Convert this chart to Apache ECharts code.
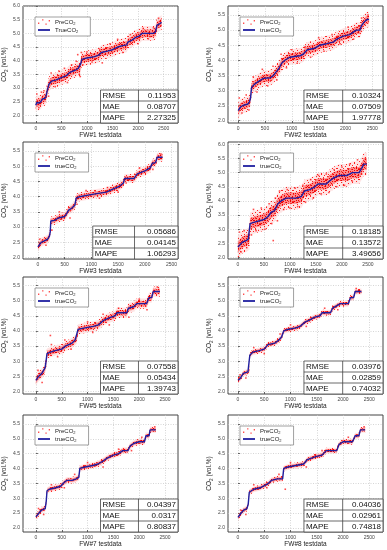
<!DOCTYPE html>
<html><head><meta charset="utf-8">
<script src="https://cdn.jsdelivr.net/npm/echarts@6/dist/echarts.min.js"></script>
<style>html,body{margin:0;padding:0;background:#fff}#c{width:387px;height:550px}</style>
</head><body><div id="c"></div>
<script>
// ---------- data ----------
const panelNames = ['FW#1 testdata','FW#2 testdata','FW#3 testdata','FW#4 testdata','FW#5 testdata','FW#6 testdata','FW#7 testdata','FW#8 testdata'];
const trueNames = ['TrueCO2','trueCO2','trueCO2','trueCO2','trueCO2','trueCO2','trueCO2','trueCO2'];
const rmse = ['0.11953','0.10324','0.05686','0.18185','0.07558','0.03976','0.04397','0.04036'];
const mae  = ['0.08707','0.07509','0.04145','0.13572','0.05434','0.02859','0.0317','0.02961'];
const mape = ['2.27325','1.97778','1.06293','3.49656','1.39743','0.74032','0.80837','0.74818'];
const xTicks = [0,500,1000,1500,2000,2500];
const yTicksA = [2.0,2.5,3.0,3.5,4.0,4.5,5.0,5.5,6.0];
const yTicksB = [2.0,2.5,3.0,3.5,4.0,4.5,5.0,5.5];

const true1 = [[0,2.37],[20,2.47],[60,2.45],[100,2.5],[130,2.6],[180,2.62],[200,2.7],[230,2.95],[260,3.15],[310,3.25],[400,3.3],[500,3.38],[600,3.45],[650,3.55],[700,3.6],[770,3.65],[830,3.72],[860,3.65],[880,3.9],[900,4.05],[1000,4.1],[1150,4.15],[1230,4.2],[1280,4.3],[1400,4.35],[1500,4.4],[1600,4.5],[1700,4.55],[1780,4.58],[1800,4.68],[1880,4.75],[1950,4.85],[2020,4.9],[2080,5.0],[2300,5.0],[2340,5.05],[2370,5.3],[2420,5.35],[2460,5.4]];
const true2 = [[0,2.33],[40,2.45],[90,2.5],[180,2.55],[210,2.62],[230,2.75],[250,3.1],[270,3.15],[300,3.2],[380,3.3],[470,3.4],[600,3.42],[660,3.5],[700,3.6],[750,3.7],[810,3.9],[870,4.0],[960,4.1],[1150,4.15],[1210,4.2],[1290,4.35],[1430,4.4],[1520,4.5],[1650,4.55],[1770,4.6],[1840,4.7],[1960,4.8],[2080,4.85],[2160,4.95],[2200,5.0],[2270,5.0],[2300,5.15],[2340,5.25],[2400,5.35],[2440,5.35]];
const true3 = [[0,2.35],[60,2.5],[120,2.55],[180,2.6],[215,2.7],[230,2.85],[240,3.2],[310,3.22],[380,3.3],[500,3.35],[540,3.45],[570,3.55],[630,3.62],[690,3.72],[715,3.95],[780,4.0],[940,4.05],[1100,4.1],[1280,4.15],[1400,4.25],[1530,4.35],[1600,4.45],[1620,4.6],[1800,4.6],[1860,4.75],[2000,4.85],[2100,4.95],[2140,5.1],[2200,5.12],[2230,5.3],[2330,5.3]];
const true4 = [[0,2.37],[90,2.55],[160,2.6],[200,2.65],[220,2.7],[235,3.2],[320,3.25],[420,3.3],[510,3.35],[580,3.45],[640,3.6],[700,3.65],[770,3.9],[830,4.0],[930,4.1],[1120,4.1],[1220,4.15],[1280,4.35],[1380,4.4],[1480,4.5],[1540,4.6],[1700,4.6],[1760,4.7],[1830,4.8],[1950,4.9],[2100,4.9],[2200,5.0],[2330,5.0],[2380,5.15],[2420,5.3],[2480,5.3]];
const true5 = [[0,2.37],[50,2.5],[115,2.6],[150,2.65],[180,2.8],[195,2.85],[215,3.25],[280,3.3],[370,3.35],[500,3.4],[570,3.5],[700,3.6],[760,3.7],[790,3.75],[815,4.05],[950,4.1],[1110,4.15],[1210,4.2],[1310,4.35],[1440,4.45],[1530,4.5],[1570,4.6],[1760,4.6],[1790,4.75],[1890,4.8],[1950,4.9],[2140,4.9],[2190,5.1],[2240,5.1],[2270,5.3],[2400,5.3]];
const true6 = [[0,2.37],[50,2.45],[100,2.6],[190,2.65],[215,2.7],[225,3.2],[280,3.3],[400,3.35],[500,3.4],[570,3.55],[700,3.6],[780,3.7],[830,3.8],[870,4.0],[950,4.05],[1100,4.1],[1180,4.15],[1280,4.3],[1350,4.35],[1450,4.45],[1560,4.5],[1600,4.6],[1760,4.6],[1800,4.75],[1900,4.85],[1950,4.9],[2100,4.9],[2140,5.1],[2200,5.1],[2230,5.3],[2350,5.3]];
const true7 = [[0,2.37],[60,2.5],[110,2.6],[180,2.65],[200,2.9],[215,3.25],[260,3.3],[380,3.35],[480,3.4],[530,3.5],[600,3.6],[700,3.6],[780,3.65],[830,3.7],[850,4.0],[950,4.05],[1100,4.1],[1200,4.15],[1300,4.25],[1380,4.35],[1500,4.45],[1600,4.5],[1680,4.6],[1780,4.6],[1820,4.75],[1900,4.85],[2000,4.9],[2100,4.9],[2130,5.1],[2190,5.1],[2210,5.3],[2320,5.3]];
const true8 = [[0,2.35],[60,2.5],[110,2.6],[170,2.65],[195,2.8],[215,3.2],[300,3.3],[420,3.35],[530,3.45],[580,3.5],[640,3.6],[750,3.65],[850,3.65],[870,4.0],[950,4.05],[1100,4.1],[1250,4.15],[1320,4.3],[1480,4.4],[1600,4.45],[1680,4.6],[1880,4.6],[1920,4.8],[2000,4.9],[2180,4.9],[2230,5.1],[2300,5.1],[2330,5.3],[2420,5.3]];

// half-width of the dense red prediction cloud around the true curve (vol.%)
const coreSpread  = [0.14, 0.13, 0.08, 0.20, 0.09, 0.055, 0.06, 0.055];
const outerSpread = [0.27, 0.26, 0.15, 0.40, 0.17, 0.10, 0.11, 0.10];

// scattered prediction points lying outside the dense cloud
const pre1 = [[20,2.78],[60,2.28],[110,2.85],[160,2.9],[250,2.7],[300,3.55],[380,3.05],[450,3.62],[560,3.72],[620,3.2],[700,3.85],[790,3.98],[820,4.22],[850,3.5],[870,3.42],[890,4.3],[920,3.85],[1000,4.32],[1100,3.95],[1250,4.42],[1300,3.92],[1450,4.62],[1600,4.78],[1700,4.3],[1850,4.95],[2000,4.62],[2100,5.18],[2200,4.8],[2300,5.2],[2400,5.55]];
const pre2 = [[20,2.75],[70,2.25],[150,2.85],[200,2.35],[280,3.45],[350,2.95],[450,3.7],[550,3.15],[650,3.8],[720,3.35],[800,4.2],[900,3.75],[1000,4.35],[1100,3.9],[1250,4.45],[1350,4.1],[1500,4.75],[1600,4.3],[1750,4.85],[1900,4.55],[2050,5.1],[2150,4.7],[2300,5.4],[2420,5.5]];
const pre3 = [[30,2.6],[150,2.4],[260,2.9],[400,3.5],[600,3.3],[730,3.75],[900,4.2],[1150,3.95],[1300,4.3],[1500,4.15],[1650,4.45],[1900,4.95],[2150,4.9],[2300,5.4]];
const pre4 = [[30,2.9],[60,2.2],[120,2.95],[170,2.35],[260,2.8],[300,3.7],[350,2.95],[450,3.75],[520,3.0],[600,3.9],[650,3.2],[720,4.1],[760,3.3],[800,4.35],[880,3.7],[950,4.4],[1000,3.75],[1100,4.45],[1150,3.8],[1250,4.55],[1300,3.95],[1400,4.75],[1450,4.1],[1550,4.9],[1600,4.25],[1700,4.95],[1750,4.3],[1850,5.1],[1900,4.5],[2000,5.2],[2050,4.55],[2150,5.3],[2200,4.7],[2300,5.45],[2380,4.95],[2450,5.5],[680,2.6]];
const pre5 = [[40,2.7],[120,2.3],[190,3.0],[300,3.55],[420,3.15],[560,3.7],[680,3.4],[800,3.85],[1000,4.3],[1100,3.95],[1300,4.55],[1420,4.2],[1600,4.75],[1800,4.45],[2000,5.05],[2150,4.7],[2350,5.45],[280,3.85]];
const pre6 = [[40,2.55],[150,2.45],[300,3.45],[500,3.25],[800,3.9],[1000,4.2],[1300,4.15],[1650,4.75],[1900,4.7],[2250,5.4]];
const pre7 = [[50,2.65],[150,2.45],[300,3.45],[550,3.35],[750,3.8],[1000,4.2],[1300,4.05],[1600,4.65],[1850,4.6],[2050,5.05],[2300,5.4]];
const pre8 = [[50,2.6],[150,2.45],[300,3.45],[550,3.35],[780,3.8],[1000,4.2],[1300,4.05],[1600,4.6],[1900,4.75],[2100,5.05],[2400,5.4],[900,3.3]];

const xRanges = [[-250,2780],[-190,2700],[-280,2620],[-190,2790],[-250,2750],[-190,2760],[-250,2750],[-190,2760]];
const yRanges = [[1.72,6.0],[1.92,5.8],[1.95,5.8],[1.95,6.08],[1.92,5.78],[1.92,5.78],[1.86,5.8],[1.86,5.8]];
const yTickSets = [yTicksA,yTicksB,yTicksB,yTicksA,yTicksB,yTicksB,yTicksB,yTicksB];

// ---------- layout & style ----------
const trues = [true1,true2,true3,true4,true5,true6,true7,true8];
const pres = [pre1,pre2,pre3,pre4,pre5,pre6,pre7,pre8];
const FONT = '"Liberation Sans", Arial, sans-serif';
const colLeft = [23, 228];
const rowTop = [6, 142, 277, 415];
const plotW = 155, plotH = 117;
const tableFrac = [0.5,0.49,0.45,0.49,0.5,0.49,0.5,0.49];
const tableH = 33;

const dotsIcon = 'path://M0,5h1.6v1.6h-1.6z M5,1h1.6v1.6h-1.6z M9,6h1.6v1.6h-1.6z M13,2h1.6v1.6h-1.6z';
const lineIcon = 'path://M0,0h20v3h-20z';

// speckle textures (pure styling) that imitate a dense cloud of tiny dots
function speckle(size, bg, dot, cells) {
  const cv = document.createElement('canvas');
  cv.width = size; cv.height = size;
  const ctx = cv.getContext('2d');
  if (bg) { ctx.fillStyle = bg; ctx.fillRect(0,0,size,size); }
  ctx.fillStyle = dot;
  cells.forEach(c => ctx.fillRect(c[0], c[1], c[2]||1, c[3]||1));
  return {image: cv, repeat: 'repeat'};
}
const outerFill = speckle(11, 'rgba(255,130,130,0.22)', 'rgba(255,0,0,0.85)',
  [[0,0],[4,1],[8,0],[2,3],[6,3,2,1],[10,4],[0,6],[4,5],[7,7],[2,8,1,2],[9,9],[5,10]]);
const coreFill = speckle(11, 'rgba(255,50,50,0.5)', 'rgba(235,0,0,1)',
  [[0,0,2,1],[3,0],[6,1],[9,0],[1,2],[4,2,1,2],[8,3],[10,2],[0,4],[2,5],[6,4,2,1],[9,6],[1,7],[4,7],[7,6],[3,9],[6,9,1,2],[9,8],[0,9],[10,10],[5,5]]);

const grids=[], xAxes=[], yAxes=[], series=[], legends=[], elements=[];

function band(pts, s, fill, gi) {
  return {
    type:'custom', xAxisIndex:gi, yAxisIndex:gi, data:pts, silent:true, clip:true, z:1,
    renderItem: function(params, api){
      if (params.dataIndex !== 0) return;
      const up = pts.map(p => api.coord([p[0], p[1] + s]));
      const lo = pts.slice().reverse().map(p => api.coord([p[0], p[1] - s]));
      return {type:'polygon', shape:{points: up.concat(lo)}, style:{fill: fill}};
    }
  };
}

for (let i=0;i<8;i++){
  const c=i%2, r=Math.floor(i/2);
  const L=colLeft[c], T=rowTop[r];
  grids.push({left:L, top:T, width:plotW, height:plotH, show:true, borderColor:'#444', borderWidth:1, backgroundColor:'#fff'});
  xAxes.push({
    type:'value', gridIndex:i, min:xRanges[i][0], max:xRanges[i][1],
    name:panelNames[i], nameLocation:'middle', nameGap:9,
    nameTextStyle:{fontSize:6.5, color:'#222', fontFamily:FONT},
    axisLine:{show:false},
    axisTick:{customValues:xTicks, inside:true, length:2, lineStyle:{color:'#444', width:0.8}},
    axisLabel:{customValues:xTicks, fontSize:5, color:'#444', margin:3, fontFamily:FONT, formatter:v=>String(Math.round(v))},
    splitLine:{show:true, lineStyle:{color:'#c4c4c4', type:[1,1.5], width:0.7}}
  });
  yAxes.push({
    type:'value', gridIndex:i, min:yRanges[i][0], max:yRanges[i][1],
    name:'{n|CO}{s|2}{n| (vol.%)}', nameLocation:'middle', nameGap:13,
    nameTextStyle:{fontSize:6.5, color:'#222', fontFamily:FONT,
      rich:{n:{fontSize:6.5, color:'#222', fontFamily:FONT, lineHeight:9}, s:{fontSize:4.5, color:'#222', fontFamily:FONT, lineHeight:6, verticalAlign:'bottom'}}},
    axisLine:{show:false},
    axisTick:{customValues:yTickSets[i], inside:true, length:2, lineStyle:{color:'#444', width:0.8}},
    axisLabel:{customValues:yTickSets[i], fontSize:5, color:'#444', margin:3, fontFamily:FONT, formatter:v=>Number(v).toFixed(1)},
    splitLine:{show:true, lineStyle:{color:'#c4c4c4', type:[1,1.5], width:0.7}}
  });
  series.push(band(trues[i], outerSpread[i], outerFill, i));
  series.push(band(trues[i], coreSpread[i], coreFill, i));
  series.push({type:'scatter', name:'PreCO2', xAxisIndex:i, yAxisIndex:i, data:pres[i], symbol:'rect', symbolSize:1.6, itemStyle:{color:'#ff2020'}, z:2, silent:true});
  series.push({type:'line', name:trueNames[i], xAxisIndex:i, yAxisIndex:i, data:trues[i], showSymbol:false, symbol:'none', lineStyle:{color:'#1f1fa0', width:1.4}, itemStyle:{color:'#1f1fa0'}, z:3, silent:true});
  legends.push({
    data:[{name:'PreCO2', icon:dotsIcon, itemStyle:{color:'#ff2020'}}, {name:trueNames[i], icon:lineIcon, itemStyle:{color:'#1f1fa0'}}],
    orient:'vertical', left:L+12, top:T+11, itemWidth:12, itemHeight:6, itemGap:1,
    padding:[2,12,2,3], borderColor:'#888', borderWidth:0.8, backgroundColor:'#fff', selectedMode:false,
    formatter: name => '{a|' + name.replace('CO2','CO') + '}{b|2}',
    textStyle:{fontSize:6, color:'#222', fontFamily:FONT,
      rich:{a:{fontSize:6, color:'#222', fontFamily:FONT, lineHeight:8}, b:{fontSize:4, color:'#222', fontFamily:FONT, lineHeight:5, verticalAlign:'bottom'}}}
  });
  // metrics table
  const tl = L + plotW*tableFrac[i], tr = L + plotW, tb = T + plotH, tt = tb - tableH;
  const rowH = tableH/3, div = tl + (tr-tl)*0.49;
  elements.push({type:'rect', z:100, shape:{x:tl, y:tt, width:tr-tl, height:tableH}, style:{fill:'#fff', stroke:'#444', lineWidth:0.8}});
  elements.push({type:'line', z:101, shape:{x1:div, y1:tt, x2:div, y2:tb}, style:{stroke:'#444', lineWidth:0.8}});
  for (let k=1;k<3;k++) elements.push({type:'line', z:101, shape:{x1:tl, y1:tt+rowH*k, x2:tr, y2:tt+rowH*k}, style:{stroke:'#444', lineWidth:0.8}});
  const labs = ['RMSE','MAE','MAPE'], vals=[rmse[i], mae[i], mape[i]];
  for (let k=0;k<3;k++){
    elements.push({type:'text', z:102, x:tl+2, y:tt+rowH*(k+0.5), style:{text:labs[k], fill:'#111', font:'8px '+FONT, textVerticalAlign:'middle', textAlign:'left'}});
    elements.push({type:'text', z:102, x:tr-2, y:tt+rowH*(k+0.5), style:{text:vals[k], fill:'#111', font:'8px '+FONT, textVerticalAlign:'middle', textAlign:'right'}});
  }
}

const chart = echarts.init(document.getElementById('c'), null, {renderer:'canvas'});
chart.setOption({
  animation:false, backgroundColor:'#fff',
  grid:grids, xAxis:xAxes, yAxis:yAxes, series:series, legend:legends,
  graphic:{elements:elements}
});
</script></body></html>
